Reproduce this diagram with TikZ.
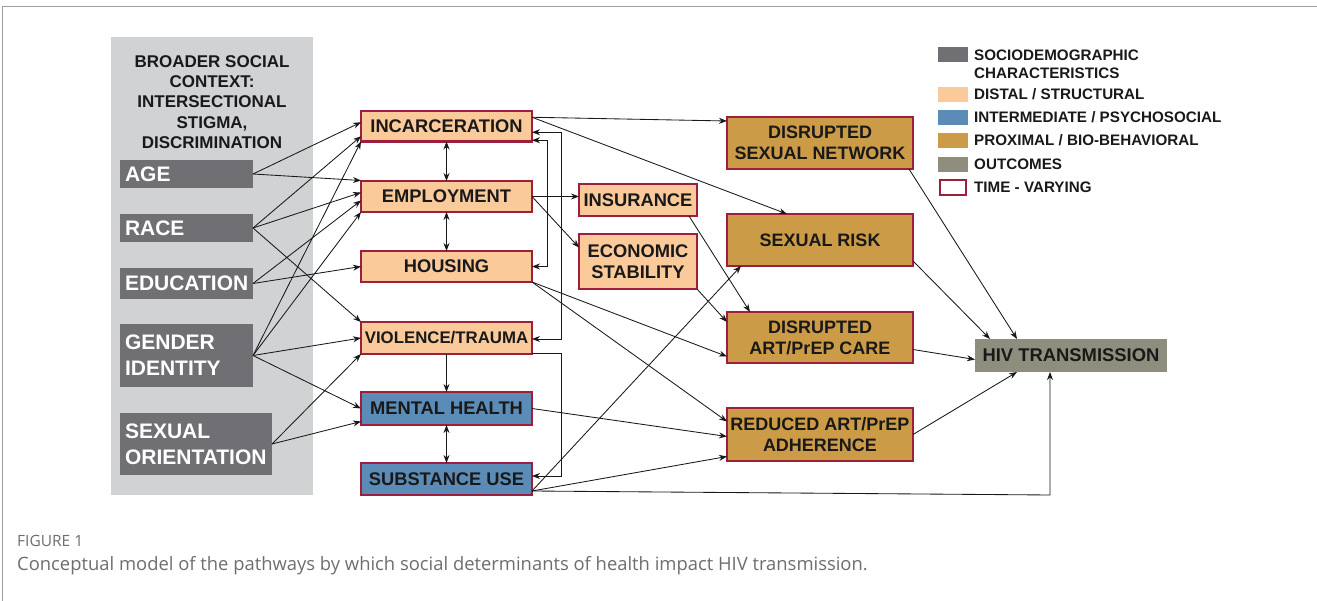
\documentclass[tikz,border=0pt]{standalone}
\usepackage{fontspec}
\setmainfont{Liberation Sans}
\newfontfamily\capfont{Open Sans}
\usetikzlibrary{arrows.meta,calc}
\definecolor{sgray}{RGB}{112,112,116}
\definecolor{lorange}{RGB}{250,202,154}
\definecolor{iblue}{RGB}{90,140,183}
\definecolor{pgold}{RGB}{204,155,72}
\definecolor{olivec}{RGB}{143,141,125}
\definecolor{crim}{RGB}{158,30,62}
\definecolor{panelc}{RGB}{208,210,212}
\definecolor{capgray}{RGB}{110,110,110}
\definecolor{ink}{RGB}{25,25,25}
\begin{document}
\begin{tikzpicture}[x=1pt,y=-1pt,
  soc/.style={anchor=north west, fill=sgray, text=white, inner xsep=5pt, inner ysep=0pt, outer sep=0pt, align=left,
    font=\bfseries\fontsize{21}{26}\selectfont},
  box/.style={anchor=north west, inner sep=0pt, outer sep=0pt, align=center, text=ink, draw=crim, line width=2.5pt,
    font=\bfseries\fontsize{18.3}{21}\selectfont},
  dist/.style={box, fill=lorange, minimum width=171pt},
  inter/.style={box, fill=iblue, minimum width=171pt},
  prox/.style={box, fill=pgold, minimum width=186pt, font=\bfseries\fontsize{18}{21}\selectfont},
  legsq/.style={anchor=north west, inner sep=0pt, outer sep=0pt, minimum width=30pt, minimum height=15pt},
  legtxt/.style={anchor=west, inner sep=0pt, align=left, text=ink, font=\bfseries\fontsize{15.2}{18}\selectfont},
  tipk/.tip={Stealth[length=8pt,width=6pt]},
  arr/.style={draw=ink, line width=0.85pt, -tipk},
  dbl/.style={draw=ink, line width=0.85pt, tipk-tipk}
]
\useasboundingbox[fill=white] (0,0) rectangle (1317,601);
\draw[gray!75, line width=1pt] (2,601) -- (2,7) -- (1317,7);

% background panel
\node[anchor=north west, fill=panelc, inner sep=0pt, minimum width=202pt, minimum height=458pt] (panel) at (111,37) {};
\node[align=center, text=ink, font=\bfseries\fontsize{17}{20.3}\selectfont] (hdr) at (212,102)
  {BROADER SOCIAL\\CONTEXT:\\INTERSECTIONAL\\STIGMA,\\DISCRIMINATION};

% sociodemographic
\node[soc, text width=123pt, minimum height=28pt] (age) at (120,160) {AGE};
\node[soc, text width=123pt, minimum height=28pt] (race) at (120,214) {RACE};
\node[soc, text width=123pt, minimum height=31pt] (edu) at (120,268) {EDUCATION};
\node[soc, text width=123pt, minimum height=63pt] (gender) at (120,324) {GENDER\\IDENTITY};
\node[soc, text width=142pt, minimum height=62pt] (sexor) at (120,413) {SEXUAL\\ORIENTATION};

% distal / intermediate
\node[dist, minimum height=30.5pt] (inc) at (361,111) {INCARCERATION};
\node[dist, minimum height=31pt] (emp) at (361,181) {EMPLOYMENT};
\node[dist, minimum height=31pt] (hou) at (361,251) {HOUSING};
\node[dist, minimum height=32pt, font=\bfseries\fontsize{16.8}{20}\selectfont] (vio) at (361,322) {VIOLENCE/TRAUMA};
\node[inter, minimum height=33pt] (mh) at (361,392) {MENTAL HEALTH};
\node[inter, minimum height=32pt] (su) at (361,463) {SUBSTANCE USE};
\node[dist, minimum width=118pt, minimum height=32pt] (ins) at (579,184) {INSURANCE};
\node[dist, minimum width=118pt, minimum height=55pt] (eco) at (579,234) {ECONOMIC\\STABILITY};

% proximal
\node[prox, minimum height=52pt] (dsn) at (727,117) {DISRUPTED\\SEXUAL NETWORK};
\node[prox, minimum height=52pt] (sr) at (727,214) {SEXUAL RISK};
\node[prox, minimum height=51pt] (dcare) at (727,312) {DISRUPTED\\ART/PrEP CARE};
\node[prox, minimum height=53pt] (radh) at (727,408) {REDUCED ART/PrEP\\ADHERENCE};

% outcome
\node[anchor=north west, fill=olivec, inner sep=0pt, outer sep=0pt, minimum width=192pt, minimum height=33pt,
  text=ink, font=\bfseries\fontsize{18.4}{20}\selectfont] (hiv) at (975,339) {HIV TRANSMISSION};

% legend
\node[legsq, fill=sgray] (lg1) at (938,47) {};
\node[legtxt] (lt1) at (974,64) {SOCIODEMOGRAPHIC\\CHARACTERISTICS};
\node[legsq, fill=lorange] (lg2) at (938,87) {};
\node[legtxt] (lt2) at (974,94.5) {DISTAL / STRUCTURAL};
\node[legsq, fill=iblue] (lg3) at (938,110) {};
\node[legtxt] (lt3) at (974,117.5) {INTERMEDIATE / PSYCHOSOCIAL};
\node[legsq, fill=pgold] (lg4) at (938,133) {};
\node[legtxt] (lt4) at (974,140.5) {PROXIMAL / BIO-BEHAVIORAL};
\node[legsq, fill=olivec] (lg5) at (938,157) {};
\node[legtxt] (lt5) at (974,164.5) {OUTCOMES};
\node[legsq, draw=crim, line width=2.5pt, fill=white, minimum width=26pt, minimum height=15pt] (lg6) at (940,180) {};
\node[legtxt] (lt6) at (974,187.5) {TIME - VARYING};

% connectors from sociodemographic
\draw[arr] (age.east) -- ([yshift=4pt]inc.west);
\draw[arr] (age.east) -- ([yshift=16pt]emp.west);
\draw[arr] (race.east) -- ([yshift=-10pt]inc.west);
\draw[arr] (race.east) -- ([yshift=4pt]emp.west);
\draw[arr] (race.east) -- (vio.north west);
\draw[arr] (edu.east) -- ([yshift=-4pt]emp.west);
\draw[arr] (edu.east) -- (hou.west);
\draw[arr] (gender.east) -- (inc.south west);
\draw[arr] (gender.east) -- (emp.south west);
\draw[arr] (gender.east) -- (vio.west);
\draw[arr] (gender.east) -- (mh.west);
\draw[arr] (sexor.east) -- (vio.south west);
\draw[arr] (sexor.east) -- ([yshift=-13pt]mh.west);

% vertical links
\draw[dbl] (inc.south) -- (emp.north);
\draw[dbl] (emp.south) -- (hou.north);
\draw[arr] (vio.south) -- (mh.north);
\draw[dbl] (mh.south) -- (su.north);

% feedback brackets
\draw[dbl] ([yshift=-14pt]inc.east) -- ++(15,0) |- (hou.east);
\draw[dbl] ([yshift=-6pt]inc.east) -- ++(29,0) |- ([yshift=-1pt]vio.east);
\draw[arr] ([yshift=-15pt]vio.east) -- ++(29,0) |- ([yshift=3pt]su.east);

% to the right
\draw[arr] ([yshift=9pt]inc.east) -- ([yshift=-4pt]dsn.north west);
\draw[arr] ([yshift=9pt]inc.east) -- ([xshift=-33pt]sr.north);
\draw[arr] (emp.east) -- (emp.east -| ins.west);
\draw[arr] (emp.east) -- ([yshift=14pt]eco.west);
\draw[arr] (hou.south east) -- ([yshift=-19pt]dcare.west);
\draw[arr] (hou.south east) -- ([yshift=13pt]radh.west);
\draw[arr] ([xshift=-8pt]ins.south east) -- ([xshift=23pt]dcare.north west);
\draw[arr] (eco.south east) -- ([yshift=-10pt]dcare.north west);
\draw[arr] ([yshift=-12pt]su.east) -- ([xshift=14pt]sr.south west);
\draw[arr] (mh.east) -- ([yshift=-2pt]radh.west);
\draw[arr] ([yshift=-12pt]su.east) -- ([yshift=-22pt]radh.west);
\coordinate (c1) at (1050,495);
\draw[arr] ([yshift=-12pt]su.east) -- (c1) -- (c1 |- hiv.south);

% into outcome
\draw[arr] ([xshift=-4pt]dsn.south east) -- ([xshift=-54pt]hiv.north);
\draw[arr] ([yshift=5pt]sr.south east) -- ([xshift=-81pt]hiv.north);
\draw[arr] ([yshift=-12pt]dcare.east) -- ([yshift=-4pt]hiv.west);
\draw[arr] (radh.east) -- ([xshift=-54pt]hiv.south);

% caption
\node[anchor=west, inner sep=0pt, text=capgray, font=\capfont\fontsize{15.5}{17}\selectfont] (fig) at (17,541) {FIGURE 1};
\node[anchor=west, inner sep=0pt, text=capgray, font=\capfont\fontsize{18.4}{21}\selectfont] (cap) at (17,566)
  {Conceptual model of the pathways by which social determinants of health impact HIV transmission.};
\end{tikzpicture}
\end{document}
